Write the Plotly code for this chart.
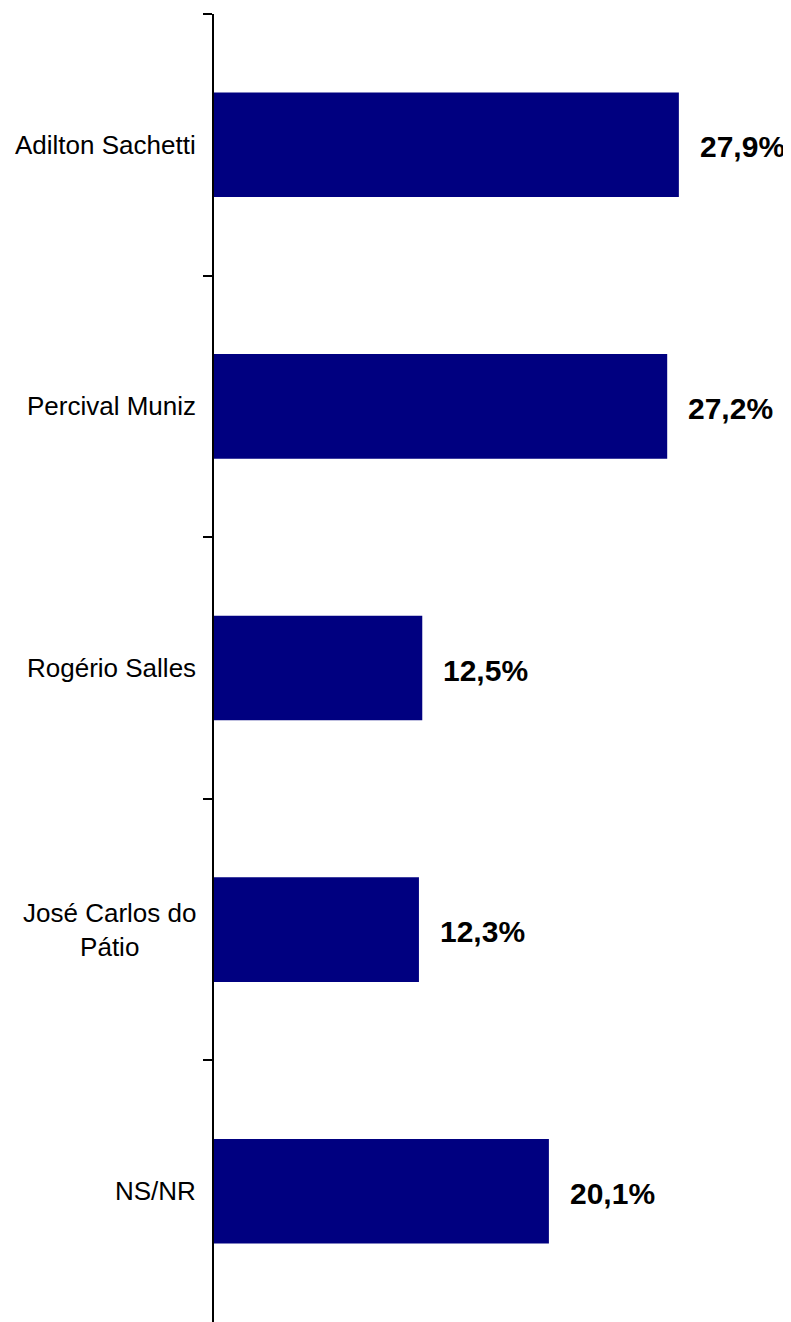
import plotly.graph_objects as go

categories = ["Adilton Sachetti", "Percival Muniz", "Rogério Salles", "José Carlos do<br>Pátio", "NS/NR"]
values = [27.9, 27.2, 12.5, 12.3, 20.1]
value_labels = ["27,9%", "27,2%", "12,5%", "12,3%", "20,1%"]

FONT = "Liberation Sans, Arial, sans-serif"

fig = go.Figure()
fig.add_trace(go.Bar(
    x=values, y=categories, orientation="h",
    marker=dict(color="#000080", line=dict(width=0)),
    hoverinfo="skip",
))

for v, c, lab in zip(values, categories, value_labels):
    fig.add_annotation(x=v, y=c, xref="x", yref="y", text=f"<b>{lab}</b>",
                       showarrow=False, xanchor="left", yanchor="middle", xshift=19, yshift=-2,
                       font=dict(family=FONT, size=30, color="#000000"))
    fig.add_annotation(x=0, y=c, xref="paper", yref="y", text=c,
                       showarrow=False, xanchor="right", yanchor="middle", xshift=-16,
                       align="center",
                       font=dict(family=FONT, size=26, color="#000000"))

fig.update_layout(
    width=783, height=1314,
    margin=dict(l=206, r=0, t=6, b=0),
    paper_bgcolor="white", plot_bgcolor="white",
    showlegend=False,
    bargap=0.6,
    font=dict(family=FONT, color="#000000"),
)
fig.update_xaxes(range=[0, 34.63], visible=False, showgrid=False, zeroline=False)
fig.update_yaxes(
    autorange="reversed", showgrid=False, zeroline=False,
    showline=True, linecolor="#000000", linewidth=1.5,
    ticks="outside", tickson="boundaries", ticklen=9, tickwidth=1.5, tickcolor="#000000",
    showticklabels=False,
)

fig.write_html("out.html")
